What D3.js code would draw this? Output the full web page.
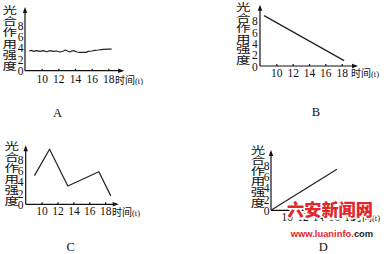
<!DOCTYPE html>
<html><head><meta charset="utf-8">
<script src="https://cdn.jsdelivr.net/npm/d3@7"></script>
<style>body{margin:0;background:#fff}svg{display:block}</style>
</head><body><svg id="c" width="390" height="254"></svg>
<script>
// ---- data ----
const xTicks = [10, 12, 14, 16, 18];
const yTicks = [0, 2, 4, 6, 8];
const yTitle = "光合作用强度";
const xTitle = "时间";
const xUnit = "(t)";
const panelLabels = ["A", "B", "C", "D"];

const aTime  = [8.5, 8.8, 9.0, 9.4, 9.8, 10.2, 10.6, 11.0, 11.4, 11.8, 12.2, 12.6, 12.85, 13.1, 13.4, 13.6, 13.9, 14.2, 14.6, 15.0, 15.3, 15.6, 16.0, 16.4, 16.8, 17.4, 18.0, 18.4];
const aValue = [3.46, 3.58, 3.40, 3.52, 3.40, 3.52, 3.34, 3.52, 3.40, 3.46, 3.29, 3.46, 3.64, 3.46, 3.29, 3.46, 3.52, 3.29, 3.23, 3.23, 3.23, 3.40, 3.46, 3.58, 3.64, 3.75, 3.81, 3.81];
const bTime  = [8.5, 18.3];
const bValue = [8.9, 0.95];
const cTime  = [9.1, 11.0, 13.3, 17.2, 18.7];
const cValue = [5.1, 9.8, 3.25, 5.8, 1.5];
const dTime  = [8, 16.4];
const dValue = [0, 7.25];

const watermark = "六安新闻网";
const watermarkUrl = "www.luaninfo.";
const watermarkTld = "com";

const series = [[aTime, aValue], [bTime, bValue], [cTime, cValue], [dTime, dValue]];

// ---- layout ----
const panels = [
  {x0:25,   x1:125,   y0:70.7,  y8:25.2,  xEndT:19.9, yTopV:11.2,  titleX:9.7,   titleY0:10,  titleDy:11.2, tickY:79.3,  labGap:1.5, xtX:115, xtY:80,    labX:57.5,  labY:112},
  {x0:260,  x1:358,   y0:66,    y8:20.7,  xEndT:20,   yTopV:10.8,  titleX:243.3, titleY0:7.2, titleDy:10.5, tickY:72.7,  labGap:2.3, xtX:351, xtY:73,    labX:316,   labY:111},
  {x0:25.7, x1:121.1, y0:204.3, y8:159.3, xEndT:19.7, yTopV:10.5,  titleX:11.7,  titleY0:146, titleDy:11,   tickY:211,   labGap:2.2, xtX:112, xtY:212,   labX:70.7,  labY:246.3},
  {x0:271,  x1:365.2, y0:210.3, y8:165,   xEndT:19.8, yTopV:10.65, titleX:258,   titleY0:149.5, titleDy:10.6, tickY:216.7, labGap:1.5, xtX:352, xtY:217, labX:323.3, labY:246.7}
];

const svg = d3.select("#c");
const ink = "#111";
const serif = "'Liberation Serif','DejaVu Serif',serif";
const cjk = "'Noto Sans CJK SC','Noto Sans CJK JP',sans-serif";

panels.forEach((p, i) => {
  const xs = d3.scaleLinear().domain([8, 20]).range([p.x0, p.x1]);
  const ys = d3.scaleLinear().domain([0, 8]).range([p.y0, p.y8]);
  const g = svg.append("g");

  // axis lines with arrows
  const xE = xs(p.xEndT), yT = ys(p.yTopV), ox = xs(8), oy = ys(0);
  g.append("line").attr("x1", ox).attr("y1", oy).attr("x2", xE - 2).attr("y2", oy)
    .attr("stroke", ink).attr("stroke-width", 1.2);
  g.append("line").attr("x1", ox).attr("y1", oy).attr("x2", ox).attr("y2", yT + 2)
    .attr("stroke", ink).attr("stroke-width", 1.2);
  g.append("path").attr("d", `M${xE},${oy}L${xE-6},${oy-2.2}L${xE-6},${oy+2.2}Z`).attr("fill", ink);
  g.append("path").attr("d", `M${ox},${yT}L${ox-2.2},${yT+6}L${ox+2.2},${yT+6}Z`).attr("fill", ink);

  // x axis ticks and labels
  const gx = g.append("g").attr("transform", `translate(0,${oy})`)
    .call(d3.axisBottom(xs).tickValues(xTicks).tickSize(-2).tickSizeOuter(0).tickFormat(d3.format("d")));
  gx.select(".domain").remove();
  gx.attr("font-family", serif).attr("font-size", 11.5).attr("color", ink);
  gx.selectAll("line").attr("stroke-width", 1.2);
  gx.selectAll("text").attr("y", p.tickY - oy).attr("dy", "0.35em");

  // y axis labels
  const gy = g.append("g").attr("transform", `translate(${ox},0)`)
    .call(d3.axisLeft(ys).tickValues(yTicks).tickSize(0).tickPadding(p.labGap).tickFormat(d3.format("d")));
  gy.select(".domain").remove();
  gy.attr("font-family", serif).attr("font-size", 11.5).attr("color", ink);
  gy.selectAll("text").attr("dy", "0.35em");

  // y title, vertical
  Array.from(yTitle).forEach((ch, k) => {
    const cy = p.titleY0 + k * p.titleDy;
    g.append("text").attr("transform", `translate(${p.titleX},${cy}) scale(1,0.74)`)
      .attr("text-anchor", "middle").attr("dy", "0.38em")
      .attr("font-family", cjk).attr("font-size", 14.5).attr("fill", ink).text(ch);
  });

  // x title
  const xt = g.append("text").attr("x", p.xtX).attr("y", p.xtY).attr("dy", "0.36em")
    .attr("font-family", cjk).attr("font-size", 10).attr("fill", ink);
  xt.append("tspan").text(xTitle);
  xt.append("tspan").attr("font-family", serif).attr("font-size", 8.5).text(xUnit);

  // data line
  const [tt, vv] = series[i];
  const pts = tt.map((t, k) => [t, vv[k]]);
  g.append("path").datum(pts)
    .attr("d", d3.line().x(d => xs(d[0])).y(d => ys(d[1])))
    .attr("fill", "none").attr("stroke", "#222").attr("stroke-width", 1.2)
    .attr("stroke-linejoin", "round");

  // panel label
  g.append("text").attr("x", p.labX).attr("y", p.labY).attr("dy", "0.36em")
    .attr("text-anchor", "middle").attr("font-family", serif).attr("font-size", 12.5)
    .attr("fill", ink).text(panelLabels[i]);
});

// watermark
svg.append("text").attr("x", 287).attr("y", 215.5)
  .attr("font-family", cjk).attr("font-weight", 900).attr("font-size", 17)
  .attr("textLength", 86).attr("lengthAdjust", "spacingAndGlyphs")
  .attr("fill", "#e2262c").attr("stroke", "#fff").attr("stroke-width", 3)
  .attr("paint-order", "stroke").text(watermark);
const wu = svg.append("text").attr("x", 290.7).attr("y", 236.6)
  .attr("font-family", "'Liberation Sans',Arial,sans-serif").attr("font-weight", 700)
  .attr("font-size", 9.4);
wu.append("tspan").attr("fill", "#e2262c").text(watermarkUrl);
wu.append("tspan").attr("fill", "#222").text(watermarkTld);
</script></body></html>
